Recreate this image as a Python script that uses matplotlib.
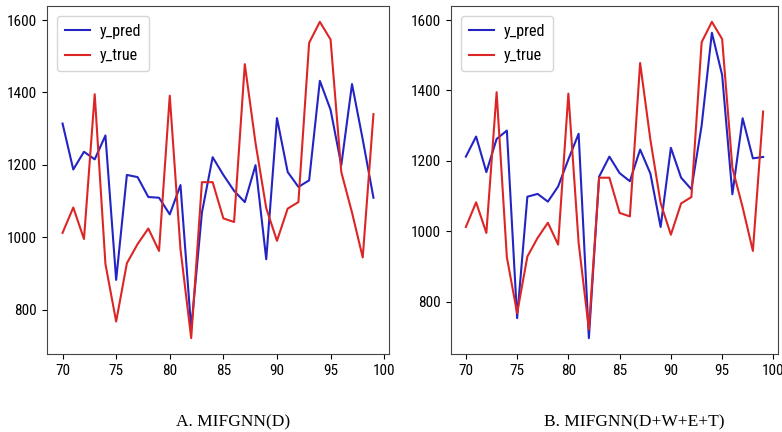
import numpy as np
import matplotlib
matplotlib.use("Agg")
import matplotlib.pyplot as plt

# time steps shown on the x axis
steps = list(range(70, 100))

y_true = [1012, 1082, 995, 1395, 926, 767, 928, 981, 1024, 962,
          1391, 967, 721, 1152, 1152, 1052, 1042, 1478, 1260, 1080,
          990, 1079, 1097, 1537, 1595, 1546, 1180, 1068, 944, 1340]

# MIFGNN(D)
y_pred_a = [1314, 1187, 1236, 1215, 1281, 882, 1172, 1166, 1111, 1109,
            1063, 1144, 747, 1068, 1221, 1172, 1128, 1097, 1199, 939,
            1329, 1180, 1139, 1157, 1432, 1352, 1199, 1423, 1270, 1109]

# MIFGNN(D+W+E+T)
y_pred_b = [1212, 1269, 1168, 1262, 1286, 753, 1098, 1106, 1084, 1127,
            1204, 1277, 696, 1155, 1212, 1165, 1142, 1232, 1164, 1012,
            1237, 1152, 1119, 1300, 1564, 1444, 1105, 1321, 1207, 1211]

captions = ["A. MIFGNN(D)", "B. MIFGNN(D+W+E+T)"]

tick_font = ["Roboto Condensed", "Liberation Sans Narrow", "Roboto", "DejaVu Sans"]
blue = "#2424c4"
red = "#dc2626"

fig = plt.figure(figsize=(7.82, 4.32), dpi=100)
ax1 = fig.add_axes([47 / 782, 78 / 432, 342 / 782, 348 / 432])
ax2 = fig.add_axes([451 / 782, 78 / 432, 327 / 782, 348 / 432])

for ax, pred in zip([ax1, ax2], [y_pred_a, y_pred_b]):
    ax.plot(steps, pred, color=blue, lw=1.5, label="y_pred")
    ax.plot(steps, y_true, color=red, lw=1.5, label="y_true")
    ax.set_xticks([70, 75, 80, 85, 90, 95, 100])
    ax.set_yticks([800, 1000, 1200, 1400, 1600])
    ax.tick_params(pad=4)
    for lab in ax.get_xticklabels() + ax.get_yticklabels():
        lab.set_family(tick_font)
        lab.set_fontsize(11)
    for sp in ax.spines.values():
        sp.set_color("#444444")
    ax.legend(loc="upper left", prop={"family": tick_font, "size": 11.5},
              handlelength=1.6, handletextpad=0.6, borderpad=0.5,
              labelspacing=0.6, borderaxespad=0.6)

fig.text(233 / 782, 1 - 422 / 432, captions[0], ha="center", va="center",
         family="Liberation Serif", fontsize=12.5)
fig.text(634 / 782, 1 - 422 / 432, captions[1], ha="center", va="center",
         family="Liberation Serif", fontsize=12.5)

fig.savefig("out.png", dpi=100)
